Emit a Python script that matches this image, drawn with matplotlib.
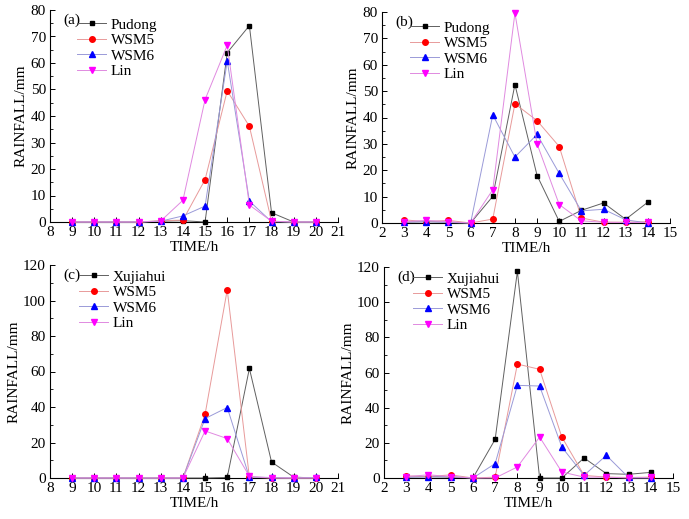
import matplotlib
matplotlib.use("Agg")
import matplotlib.pyplot as plt
from matplotlib.ticker import MultipleLocator

plt.rcParams['font.family'] = ['Liberation Serif', 'DejaVu Serif']
plt.rcParams['mathtext.fontset'] = 'stix'

# ---- data ----
hours_a = [9, 10, 11, 12, 13, 14, 15, 16, 17, 18, 19, 20]
a_obs  = [0, 0, 0, 0, 0.3, 0.5, 0, 63.9, 74.1, 3.5, 0, 0]
a_wsm5 = [0, 0, 0, 0, 0.5, 0.7, 16.0, 49.5, 36.1, 0.3, 0, 0]
a_wsm6 = [0, 0, 0, 0, 0.3, 2.3, 6.0, 60.8, 7.9, 0.1, 0, 0]
a_lin  = [0, 0, 0, 0, 0.4, 8.2, 46.2, 66.7, 6.4, 0.3, 0, 0]

hours_b = [3, 4, 5, 6, 7, 8, 9, 10, 11, 12, 13, 14]
b_obs  = [0.3, 0.5, 0.3, 0, 10.1, 52.5, 18.0, 0.6, 4.8, 7.6, 1.4, 7.9]
b_wsm5 = [1.2, 0.5, 1.0, 0, 1.5, 45.2, 38.8, 29.0, 1.9, 0.3, 0.3, 0.5]
b_wsm6 = [0.3, 0.5, 0.2, 0, 41.0, 25.0, 33.6, 18.8, 4.6, 5.2, 1.2, 0]
b_lin  = [0.5, 1.0, 0.5, 0, 12.6, 79.6, 30.0, 7.0, 0.8, 0.3, 0.2, 0.2]

hours_c = [9, 10, 11, 12, 13, 14, 15, 16, 17, 18, 19, 20]
c_obs  = [0, 0, 0, 0, 0, 0, 0, 0.3, 61.7, 9.0, 0.5, 0]
c_wsm5 = [0, 0, 0, 0, 0, 0, 35.9, 106.0, 0.5, 0, 0, 0]
c_wsm6 = [0, 0, 0, 0, 0, 0, 33.5, 39.7, 0.5, 0.3, 0, 0.3]
c_lin  = [0, 0, 0, 0, 0, 0, 26.5, 22.2, 1.0, 0, 0, 0]

hours_d = [3, 4, 5, 6, 7, 8, 9, 10, 11, 12, 13, 14]
d_obs  = [0.5, 0.8, 0.5, 0, 22.0, 117.5, 0, 0, 11.4, 2.5, 2.1, 3.2]
d_wsm5 = [1.2, 0.8, 1.8, 0, 0.5, 64.8, 61.8, 23.3, 1.5, 0.5, 0.3, 0.5]
d_wsm6 = [0.5, 0.5, 0.8, 0, 8.2, 52.7, 52.3, 17.6, 1.5, 12.9, 0.3, 0]
d_lin  = [0.8, 1.8, 0.8, 0, 0, 6.3, 23.3, 3.4, 0.5, 0.5, 0, 0.3]

model_names = ["WSM5", "WSM6", "Lin"]

panels = [
    dict(tag="(a)", station="Pudong", x=hours_a, series=[a_obs, a_wsm5, a_wsm6, a_lin],
         xlim=(8, 21), ylim=(0, 80), ymaj=10, pos=[50, 10, 338, 222],
         leg=(77, 18)),
    dict(tag="(b)", station="Pudong", x=hours_b, series=[b_obs, b_wsm5, b_wsm6, b_lin],
         xlim=(2, 15), ylim=(0, 80), ymaj=10, pos=[382, 12, 670, 223],
         leg=(410, 21)),
    dict(tag="(c)", station="Xujiahui", x=hours_c, series=[c_obs, c_wsm5, c_wsm6, c_lin],
         xlim=(8, 21), ylim=(0, 120), ymaj=20, pos=[50, 265, 338, 478],
         leg=(79, 270)),
    dict(tag="(d)", station="Xujiahui", x=hours_d, series=[d_obs, d_wsm5, d_wsm6, d_lin],
         xlim=(2, 15), ylim=(0, 120), ymaj=20, pos=[384, 267, 673, 478],
         leg=(413, 272)),
]

marker_colors = ["black", "red", "blue", "magenta"]
line_colors = ["#606060", "#e89a9a", "#9a9ad8", "#e08ae0"]
markers = ["s", "o", "^", "v"]
msizes = [3.3, 4.0, 4.6, 4.6]

W, H = 689, 519
fig = plt.figure(figsize=(W / 100, H / 100), dpi=100)

for p in panels:
    l, t, r, b = p["pos"]
    ax = fig.add_axes([l / W, 1 - b / H, (r - l) / W, (b - t) / H])
    labels = [p["station"]] + model_names
    for i, (yv, lab) in enumerate(zip(p["series"], labels)):
        ax.plot(p["x"], yv, color=line_colors[i], lw=0.7, marker=markers[i],
                markersize=msizes[i], markerfacecolor=marker_colors[i],
                markeredgecolor=marker_colors[i], label=lab, zorder=3 + i,
                clip_on=False)
    ax.set_xlim(*p["xlim"])
    ax.set_ylim(*p["ylim"])
    ax.xaxis.set_major_locator(MultipleLocator(1))
    ax.yaxis.set_major_locator(MultipleLocator(p["ymaj"]))
    ax.yaxis.set_minor_locator(MultipleLocator(p["ymaj"] / 2))
    for s in ["top", "right"]:
        ax.spines[s].set_visible(False)
    for s in ["left", "bottom"]:
        ax.spines[s].set_linewidth(0.8)
    ax.tick_params(axis="both", which="major", direction="in", length=3.5,
                   width=0.7, labelsize=11, pad=3)
    ax.tick_params(axis="y", which="minor", direction="in", length=2, width=0.6)
    ax.set_xlabel("TIME/h", fontsize=11, labelpad=1)
    ax.set_ylabel("RAINFALL/mm", fontsize=11, labelpad=2)
    ax.text(0.045, 0.985, p["tag"], transform=ax.transAxes, fontsize=11,
            va="top", ha="left")
    lx, ly = p["leg"]
    leg = ax.legend(loc="upper left",
                    bbox_to_anchor=((lx - l) / (r - l), 1 - (ly - t) / (b - t)),
                    frameon=False, fontsize=11, handlelength=1.9,
                    handletextpad=0.3, labelspacing=0.12, borderpad=0,
                    borderaxespad=0)

fig.savefig("out.png", dpi=100)
